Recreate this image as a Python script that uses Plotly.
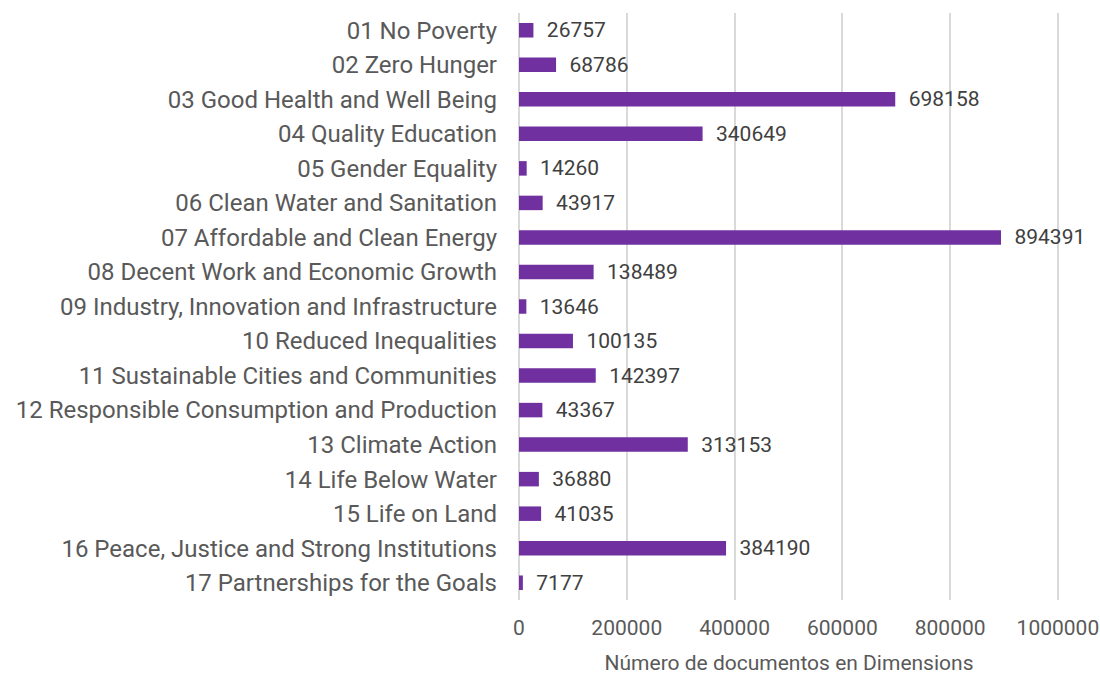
import plotly.graph_objects as go

categories = [
    "01 No Poverty", "02 Zero Hunger", "03 Good Health and Well Being",
    "04 Quality Education", "05 Gender Equality", "06 Clean Water and Sanitation",
    "07 Affordable and Clean Energy", "08 Decent Work and Economic Growth",
    "09 Industry, Innovation and Infrastructure", "10 Reduced Inequalities",
    "11 Sustainable Cities and Communities", "12 Responsible Consumption and Production",
    "13 Climate Action", "14 Life Below Water", "15 Life on Land",
    "16 Peace, Justice and Strong Institutions", "17 Partnerships for the Goals",
]
values = [26757, 68786, 698158, 340649, 14260, 43917, 894391, 138489, 13646,
          100135, 142397, 43367, 313153, 36880, 41035, 384190, 7177]
x_ticks = [0, 200000, 400000, 600000, 800000, 1000000]
x_title = "Número de documentos en Dimensions"

fig = go.Figure(go.Bar(
    y=categories, x=values, orientation="h",
    marker=dict(color="#7030a0", line=dict(width=0)),
    text=[f"  {v}" for v in values], textposition="outside",
    constraintext="none",
    textfont=dict(family="Roboto", size=21, color="#404040"),
    cliponaxis=False,
))
fig.update_layout(
    width=1100, height=675,
    margin=dict(l=519, r=41, t=13, b=75),
    paper_bgcolor="white", plot_bgcolor="white",
    bargap=0.58, showlegend=False,
    font=dict(family="Roboto", color="#595959"),
)
fig.update_yaxes(
    autorange="reversed", tickfont=dict(size=24, color="#595959"),
    ticklabelstandoff=21, showgrid=False, zeroline=False, showline=False,
    automargin=False,
)
fig.update_xaxes(
    range=[0, 1002000], tickvals=x_ticks, ticktext=[str(t) for t in x_ticks],
    tickfont=dict(size=21, color="#595959"), showgrid=True, gridcolor="#d9d9d9",
    gridwidth=2, zeroline=True, zerolinecolor="#d9d9d9", zerolinewidth=2,
    ticklabelstandoff=13, automargin=False,
    title=dict(text=x_title, font=dict(size=21, color="#595959"), standoff=33),
)
fig.write_html(
    "out.html",
    config={"displayModeBar": False},
    post_script="document.body.style.margin='0';document.body.style.overflow='hidden';",
)
